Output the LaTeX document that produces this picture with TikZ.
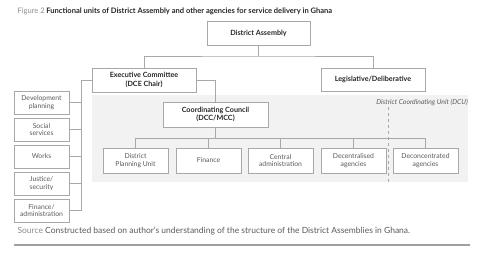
\documentclass[tikz,border=0pt]{standalone}
\usepackage{fontspec}
\setmainfont{Lato}
\usetikzlibrary{positioning, backgrounds}
\definecolor{boxgray}{HTML}{A8A8A8}
\definecolor{unitfill}{HTML}{F2F2F2}
\definecolor{textgray}{HTML}{5A5A5A}
\definecolor{srcgray}{HTML}{8C8C8C}

\begin{document}
\begin{tikzpicture}[
    x=1pt, y=-1pt,
    node distance=3.6pt and 8pt,
    head/.style={rectangle, draw=boxgray, fill=white, font=\fontsize{7.2}{8.6}\selectfont\bfseries, text=black!85, align=center, inner sep=1pt},
    unit/.style={rectangle, draw=boxgray, fill=white, font=\fontsize{6.8}{7.8}\selectfont, text=textgray, align=center, minimum width=65pt, minimum height=25pt, inner sep=1pt},
    task/.style={unit, minimum width=55pt, minimum height=23pt},
    link/.style={draw=boxgray, line width=0.6pt}
]
\useasboundingbox (0,0) rectangle (480,253);

\node[anchor=west, font=\fontsize{7.55}{8}\selectfont\bfseries, text=black!85] (title) at (14,11)
    {\textcolor{srcgray}{\mdseries Figure 2} Functional units of District Assembly and other agencies for service delivery in Ghana};

% shaded coordinating unit
\node[fill=unitfill, minimum width=376pt, minimum height=87pt, inner sep=0pt, anchor=north west] (dcu) at (92,95) {};
\node[anchor=north east, font=\fontsize{6.8}{7.8}\selectfont\itshape, text=textgray, inner sep=1pt] (dcuname) at (469,98) {District Coordinating Unit (DCU)};

\node[head, minimum width=103pt, minimum height=24pt] (assembly) at (258.5,33) {District Assembly};
\node[head, minimum width=104pt, minimum height=24pt] (exec) at (144,80) {Executive Committee\\(DCE Chair)};
\node[head, minimum width=104pt, minimum height=23pt] (legis) at (373,79.5) {Legislative/Deliberative};
\node[head, minimum width=105pt, minimum height=25pt] (council) at (215.5,114.5) {Coordinating Council\\(DCC/MCC)};

\node[unit] (dpu) at (135.5,160.5) {District\\Planning Unit};
\node[unit] (finance) at (208.5,160.5) {Finance};
\node[unit] (central) at (280.5,160.5) {Central\\administration};
\node[unit] (decent) at (353.5,160.5) {Decentralised\\agencies};
\node[unit] (deconc) at (425.5,160.5) {Deconcentrated\\agencies};

\node[task] (devplan) at (41.5,102.5) {Development\\planning};
\node[task, below=of devplan] (social) {Social\\services};
\node[task, below=of social] (works) {Works};
\node[task, below=of works] (justice) {Justice/\\security};
\node[task, below=of justice] (finadmin) {Finance/\\administration};

\coordinate (bus) at (258.5,56);
\coordinate (spine) at (81,80);
\coordinate (rail) at (215.5,138);
\coordinate (cut) at (388,107);

\draw[link] (assembly.south) -- (bus);
\draw[link] (exec.north) |- (bus) -| (legis.north);
\draw[link] (exec.east) -| (council.north);
\draw[link] (exec.west) -- (spine) |- (finadmin.east);
\foreach \t in {devplan, social, works, justice}
    \draw[link] (\t.east) -- (\t.east -| spine);
\draw[link] (council.south) -- (rail);
\foreach \u in {dpu, finance, central, decent, deconc}
    \draw[link] (\u.north) |- (rail);
\draw[link, dashed] (cut) -- (cut |- dcu.south);

\node[anchor=west, font=\fontsize{8.5}{9}\selectfont, text=textgray] (source) at (14,231)
    {\textcolor{srcgray}{Source} Constructed based on author's understanding of the structure of the District Assemblies in Ghana.};
\draw[line width=2.5pt, gray!75] (source.west |- 0,245) -- (470,245);
\end{tikzpicture}
\end{document}
